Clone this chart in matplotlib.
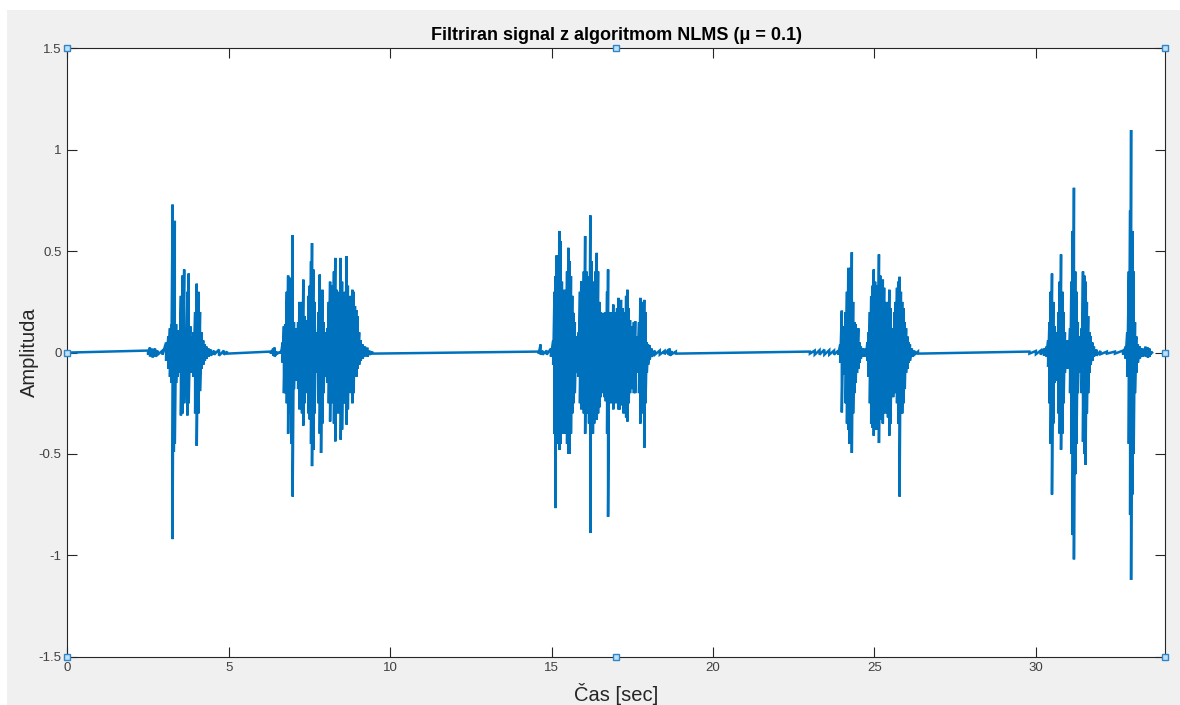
import matplotlib
matplotlib.use("Agg")
import matplotlib.pyplot as plt
from matplotlib.patches import Rectangle
from matplotlib.ticker import FuncFormatter

plt.rcParams['font.family'] = ['Liberation Sans', 'DejaVu Sans']

# signal: per short window, time [s], upper and lower peak
b1_t = [2.50, 2.56, 2.64, 2.72, 2.80, 2.95, 3.06, 3.13, 3.18, 3.22, 3.26, 3.30, 3.33,
        3.37, 3.42, 3.47, 3.52, 3.57, 3.62, 3.67, 3.72, 3.76, 3.81, 3.86, 3.91, 3.96,
        4.01, 4.06, 4.11, 4.16, 4.21, 4.26, 4.31, 4.38, 4.45, 4.55, 4.70, 4.85, 4.95]
b1_hi = [0.01, 0.025, 0.02, 0.02, 0.01, 0.01, 0.05, 0.08, 0.12, 0.14, 0.73, 0.50, 0.65,
         0.14, 0.11, 0.10, 0.28, 0.38, 0.41, 0.12, 0.30, 0.39, 0.13, 0.08, 0.10, 0.20,
         0.34, 0.30, 0.20, 0.10, 0.06, 0.04, 0.03, 0.02, 0.015, 0.01, 0.015, 0.01, 0.005]
b1_lo = [-0.01, -0.02, -0.025, -0.02, -0.01, -0.01, -0.04, -0.08, -0.12, -0.15, -0.92, -0.49, -0.45,
         -0.15, -0.12, -0.10, -0.31, -0.30, -0.25, -0.10, -0.31, -0.25, -0.10, -0.08, -0.12, -0.30,
         -0.46, -0.30, -0.19, -0.08, -0.06, -0.04, -0.03, -0.02, -0.015, -0.01, -0.015, -0.01, -0.005]

b2_t = [6.30, 6.38, 6.42, 6.50, 6.62, 6.67, 6.71, 6.75, 6.80, 6.84, 6.88, 6.92, 6.95, 6.98,
        7.02, 7.06, 7.10, 7.15, 7.19, 7.23, 7.27, 7.31, 7.35, 7.39, 7.43, 7.47, 7.51, 7.55,
        7.58, 7.62, 7.66, 7.70, 7.74, 7.78, 7.82, 7.86, 7.90, 7.94, 7.98, 8.02, 8.06, 8.10,
        8.14, 8.18, 8.22, 8.26, 8.30, 8.34, 8.38, 8.42, 8.47, 8.51, 8.55, 8.60, 8.65, 8.69,
        8.73, 8.78, 8.83, 8.87, 8.91, 8.95, 8.99, 9.04, 9.09, 9.15, 9.22, 9.30, 9.36, 9.45]
b2_hi = [0.005, 0.02, 0.025, 0.005, 0.005, 0.05, 0.13, 0.14, 0.30, 0.38, 0.37, 0.20, 0.35, 0.58,
         0.15, 0.11, 0.12, 0.15, 0.25, 0.15, 0.25, 0.36, 0.18, 0.12, 0.16, 0.28, 0.33, 0.45,
         0.54, 0.41, 0.25, 0.10, 0.08, 0.20, 0.385, 0.30, 0.31, 0.15, 0.08, 0.10, 0.12, 0.25,
         0.35, 0.30, 0.33, 0.40, 0.467, 0.31, 0.20, 0.30, 0.467, 0.35, 0.23, 0.30, 0.475, 0.33,
         0.26, 0.28, 0.31, 0.30, 0.23, 0.21, 0.18, 0.10, 0.06, 0.04, 0.03, 0.025, 0.01, 0.005]
b2_lo = [-0.005, -0.015, -0.02, -0.005, -0.005, -0.05, -0.20, -0.20, -0.25, -0.40, -0.30, -0.22, -0.45, -0.71,
         -0.18, -0.13, -0.14, -0.18, -0.28, -0.20, -0.30, -0.36, -0.25, -0.15, -0.20, -0.30, -0.33, -0.45,
         -0.56, -0.48, -0.30, -0.10, -0.07, -0.25, -0.40, -0.495, -0.35, -0.20, -0.06, -0.12, -0.15, -0.25,
         -0.34, -0.25, -0.22, -0.35, -0.438, -0.30, -0.25, -0.30, -0.43, -0.38, -0.25, -0.25, -0.355, -0.28,
         -0.17, -0.20, -0.25, -0.20, -0.12, -0.12, -0.08, -0.06, -0.04, -0.03, -0.02, -0.02, -0.01, -0.005]

b3_t = [14.60, 14.66, 14.72, 14.85, 14.98, 15.05, 15.09, 15.12, 15.16, 15.20, 15.24, 15.28,
        15.32, 15.36, 15.40, 15.44, 15.48, 15.52, 15.56, 15.60, 15.64, 15.68, 15.72, 15.76,
        15.80, 15.84, 15.88, 15.92, 15.96, 16.00, 16.04, 16.08, 16.12, 16.16, 16.20, 16.24,
        16.28, 16.32, 16.36, 16.40, 16.44, 16.48, 16.52, 16.56, 16.60, 16.64, 16.68, 16.72,
        16.75, 16.79, 16.83, 16.87, 16.91, 16.95, 16.99, 17.03, 17.07, 17.11, 17.15, 17.19,
        17.23, 17.27, 17.31, 17.35, 17.39, 17.43, 17.47, 17.51, 17.55, 17.59, 17.63, 17.67,
        17.71, 17.75, 17.79, 17.83, 17.87, 17.91, 17.95, 17.99, 18.04, 18.10, 18.20, 18.35,
        18.50, 18.62, 18.66, 18.72, 18.85]
b3_hi = [0.005, 0.04, 0.01, 0.01, 0.02, 0.06, 0.30, 0.377, 0.48, 0.40, 0.60, 0.55,
         0.35, 0.25, 0.31, 0.30, 0.40, 0.517, 0.45, 0.377, 0.28, 0.196, 0.15, 0.08,
         0.047, 0.10, 0.30, 0.352, 0.35, 0.40, 0.575, 0.40, 0.377, 0.30, 0.677, 0.45,
         0.35, 0.30, 0.40, 0.492, 0.40, 0.25, 0.20, 0.15, 0.196, 0.18, 0.20, 0.30,
         0.41, 0.20, 0.15, 0.20, 0.237, 0.20, 0.18, 0.22, 0.27, 0.25, 0.26, 0.22,
         0.15, 0.20, 0.28, 0.31, 0.22, 0.16, 0.12, 0.13, 0.15, 0.155, 0.08, 0.05,
         0.15, 0.27, 0.24, 0.25, 0.26, 0.20, 0.05, 0.04, 0.035, 0.02, 0.01, 0.01,
         0.008, 0.015, 0.02, 0.008, 0.005]
b3_lo = [-0.005, -0.01, -0.01, -0.01, -0.02, -0.06, -0.40, -0.767, -0.43, -0.45, -0.48, -0.45,
         -0.40, -0.35, -0.40, -0.35, -0.45, -0.50, -0.50, -0.40, -0.30, -0.25, -0.20, -0.10,
         -0.05, -0.12, -0.25, -0.28, -0.25, -0.30, -0.40, -0.30, -0.30, -0.35, -0.89, -0.40,
         -0.40, -0.35, -0.30, -0.33, -0.30, -0.27, -0.22, -0.20, -0.17, -0.22, -0.24, -0.40,
         -0.81, -0.25, -0.17, -0.25, -0.28, -0.25, -0.22, -0.25, -0.28, -0.28, -0.26, -0.25,
         -0.30, -0.28, -0.32, -0.34, -0.25, -0.20, -0.16, -0.18, -0.20, -0.20, -0.10, -0.06,
         -0.20, -0.35, -0.30, -0.28, -0.47, -0.25, -0.10, -0.06, -0.035, -0.02, -0.01, -0.01,
         -0.008, -0.01, -0.015, -0.008, -0.005]

b4_t = [23.00, 23.15, 23.30, 23.45, 23.60, 23.75, 23.88, 23.94, 23.99, 24.03, 24.07, 24.11,
        24.15, 24.19, 24.23, 24.27, 24.30, 24.34, 24.38, 24.42, 24.46, 24.50, 24.54, 24.58,
        24.62, 24.66, 24.70, 24.74, 24.78, 24.82, 24.86, 24.90, 24.94, 24.98, 25.02, 25.06,
        25.10, 25.14, 25.18, 25.22, 25.26, 25.30, 25.34, 25.38, 25.42, 25.46, 25.50, 25.54,
        25.58, 25.62, 25.66, 25.70, 25.74, 25.78, 25.82, 25.86, 25.90, 25.94, 25.98, 26.02,
        26.06, 26.10, 26.16, 26.24, 26.35]
b4_hi = [0.005, 0.01, 0.012, 0.015, 0.012, 0.01, 0.01, 0.04, 0.207, 0.10, 0.13, 0.20,
         0.30, 0.418, 0.40, 0.42, 0.495, 0.25, 0.15, 0.14, 0.10, 0.12, 0.05, 0.03,
         0.02, 0.02, 0.015, 0.02, 0.05, 0.10, 0.20, 0.278, 0.33, 0.41, 0.35, 0.30,
         0.33, 0.484, 0.38, 0.30, 0.36, 0.32, 0.25, 0.22, 0.25, 0.31, 0.22, 0.12,
         0.10, 0.20, 0.25, 0.32, 0.35, 0.374, 0.30, 0.25, 0.22, 0.15, 0.12, 0.08,
         0.05, 0.04, 0.02, 0.01, 0.005]
b4_lo = [-0.005, -0.01, -0.01, -0.01, -0.01, -0.01, -0.01, -0.05, -0.295, -0.10, -0.11, -0.25,
         -0.35, -0.38, -0.45, -0.40, -0.495, -0.30, -0.20, -0.15, -0.10, -0.08, -0.05, -0.03,
         -0.02, -0.02, -0.015, -0.02, -0.04, -0.12, -0.25, -0.35, -0.37, -0.41, -0.38, -0.36,
         -0.38, -0.446, -0.30, -0.33, -0.35, -0.30, -0.28, -0.30, -0.32, -0.41, -0.35, -0.20,
         -0.22, -0.15, -0.20, -0.25, -0.35, -0.71, -0.30, -0.30, -0.25, -0.18, -0.10, -0.08,
         -0.05, -0.04, -0.02, -0.01, -0.005]

b5_t = [29.80, 30.00, 30.15, 30.25, 30.33, 30.38, 30.42, 30.46, 30.50, 30.54, 30.58, 30.62,
        30.66, 30.70, 30.74, 30.78, 30.82, 30.86, 30.90, 30.94, 30.98, 31.02, 31.06, 31.10,
        31.14, 31.18, 31.22, 31.26, 31.30, 31.34, 31.38, 31.42, 31.46, 31.50, 31.54, 31.58,
        31.62, 31.66, 31.70, 31.75, 31.80, 31.88, 32.00, 32.20, 32.45, 32.70, 32.78, 32.83,
        32.88, 32.92, 32.95, 32.99, 33.03, 33.07, 33.11, 33.16, 33.22, 33.30, 33.40, 33.47,
        33.52, 33.56]
b5_hi = [0.005, 0.008, 0.01, 0.02, 0.03, 0.06, 0.15, 0.30, 0.39, 0.25, 0.13, 0.08,
         0.10, 0.20, 0.35, 0.484, 0.30, 0.20, 0.10, 0.06, 0.05, 0.06, 0.12, 0.35,
         0.60, 0.813, 0.40, 0.30, 0.15, 0.08, 0.06, 0.12, 0.40, 0.38, 0.35, 0.25,
         0.18, 0.10, 0.08, 0.05, 0.03, 0.015, 0.008, 0.005, 0.005, 0.01, 0.03, 0.10,
         0.40, 0.70, 1.098, 0.60, 0.40, 0.15, 0.08, 0.04, 0.03, 0.02, 0.03, 0.025,
         0.02, 0.005]
b5_lo = [-0.005, -0.008, -0.01, -0.015, -0.02, -0.07, -0.25, -0.45, -0.70, -0.35, -0.15, -0.10,
         -0.14, -0.30, -0.40, -0.479, -0.40, -0.25, -0.10, -0.08, -0.06, -0.08, -0.20, -0.50,
         -0.90, -1.02, -0.60, -0.45, -0.20, -0.10, -0.08, -0.20, -0.44, -0.50, -0.553, -0.30,
         -0.20, -0.10, -0.06, -0.04, -0.02, -0.015, -0.008, -0.005, -0.005, -0.01, -0.03, -0.12,
         -0.45, -0.80, -1.121, -0.70, -0.50, -0.20, -0.10, -0.05, -0.03, -0.02, -0.02, -0.025,
         -0.02, -0.005]

t_start, t_end = 0.0, 33.6

xs, ys = [t_start], [0.0]
for tt, hh, ll in [(b1_t, b1_hi, b1_lo), (b2_t, b2_hi, b2_lo), (b3_t, b3_hi, b3_lo),
                   (b4_t, b4_hi, b4_lo), (b5_t, b5_hi, b5_lo)]:
    for t, h, l in zip(tt, hh, ll):
        xs += [t, t]
        ys += [h, l]
xs.append(t_end)
ys.append(0.0)

fig = plt.figure(figsize=(11.8, 7.05), dpi=100, facecolor='white')
# gray MATLAB figure background
fig.patches.append(Rectangle((7 / 1180, 0), 1, 695 / 705, transform=fig.transFigure,
                             facecolor='#F0F0F0', edgecolor='none', zorder=-10))
ax = fig.add_axes([0.05703, 0.06851, 0.93025, 0.86270])
ax.set_facecolor('white')

ax.plot(xs, ys, color='#0072BD', linewidth=1.8, solid_joinstyle='miter')

ax.set_xlim(0, 34)
ax.set_ylim(-1.5, 1.5)
ax.set_xticks([0, 5, 10, 15, 20, 25, 30])
ax.set_yticks([-1.5, -1, -0.5, 0, 0.5, 1, 1.5])
ax.yaxis.set_major_formatter(FuncFormatter(lambda v, p: '%g' % v))
ax.tick_params(direction='in', length=7, width=0.8, top=True, right=True,
               labelsize=9.5, colors='#262626', labelcolor='#404040', pad=4)
for s in ax.spines.values():
    s.set_color('#262626')
    s.set_linewidth(0.8)

ax.set_title('Filtriran signal z algoritmom NLMS (μ = 0.1)', fontsize=13,
             fontweight='bold', color='black', pad=6)
ax.set_xlabel('Čas [sec]', fontsize=14.5, color='#262626', labelpad=6)
ax.set_ylabel('Amplituda', fontsize=14.5, color='#262626', labelpad=0)

# selection handles on the axes box
hx = [0, 0.5, 1, 0, 1, 0, 0.5, 1]
hy = [1, 1, 1, 0.5, 0.5, 0, 0, 0]
ax.plot(hx, hy, linestyle='none', marker='s', markersize=4.5, markerfacecolor='#BFE0F7',
        markeredgecolor='#2E86C9', markeredgewidth=1, transform=ax.transAxes,
        clip_on=False, zorder=10)

fig.savefig('out.png', dpi=100, facecolor=fig.get_facecolor())
